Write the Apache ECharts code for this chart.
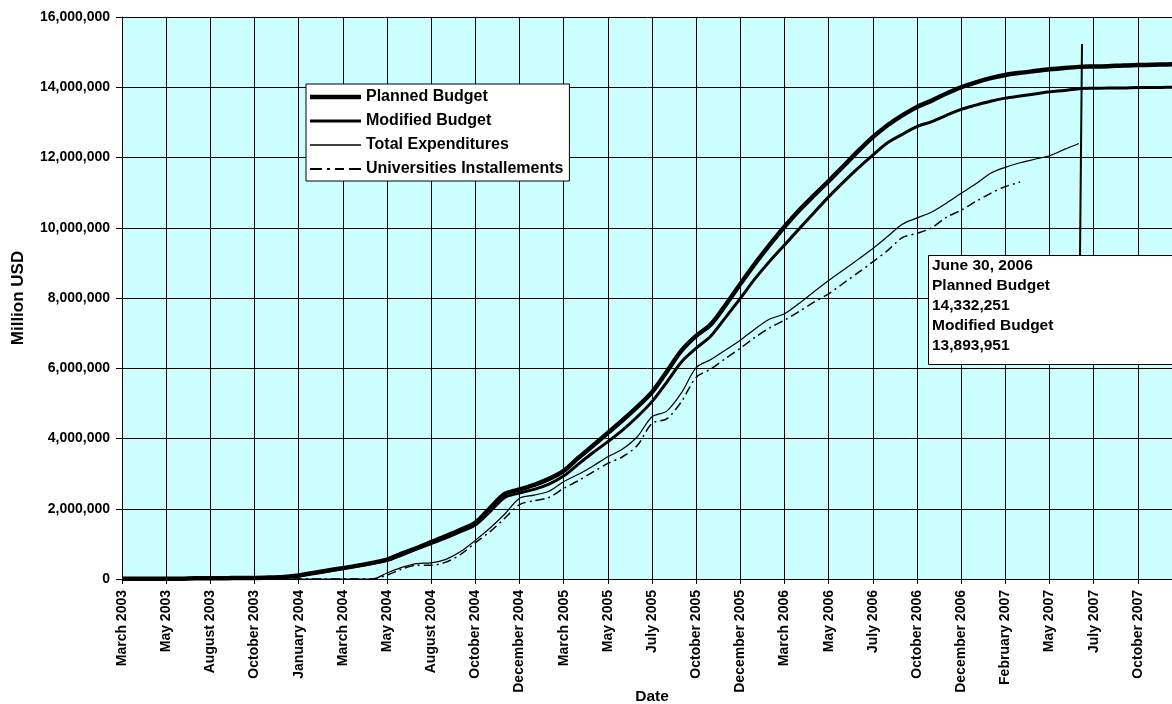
<!DOCTYPE html>
<html>
<head>
<meta charset="utf-8">
<script src="https://cdn.jsdelivr.net/npm/echarts@6/dist/echarts.min.js"></script>
<style>
  html, body { margin: 0; padding: 0; background: #fff; }
  #chart { width: 1172px; height: 704px; }
</style>
</head>
<body>
<div id="chart"></div>
<script>
// Tick labels of the date axis (one every third category)
const tickLabels = ["March 2003","May 2003","August 2003","October 2003","January 2004","March 2004",
  "May 2004","August 2004","October 2004","December 2004","March 2005","May 2005","July 2005",
  "October 2005","December 2005","March 2006","May 2006","July 2006","October 2006",
  "December 2006","February 2007","May 2007","July 2007","October 2007"];
const subSteps = 3;

// Series values (USD), one per category
const plannedBudget = [10000,10000,10000,10000,10000,20000,20000,20000,30000,30000,40000,60000,
  100000,170000,240000,310000,380000,460000,550000,720000,880000,1050000,1220000,1400000,
  1600000,2020000,2420000,2550000,2680000,2850000,3080000,3450000,3800000,4160000,4520000,4900000,
  5320000,5900000,6500000,6920000,7250000,7800000,8400000,8980000,9520000,10030000,10500000,10920000,
  11330000,11750000,12180000,12580000,12920000,13200000,13440000,13620000,13820000,14000000,14140000,14260000,
  14350000,14410000,14460000,14510000,14550000,14580000,14590000,14600000,14620000,14630000,14640000,14650000,14660000];
const modifiedBudget = [10000,10000,10000,10000,10000,20000,20000,20000,30000,30000,40000,60000,
  90000,160000,230000,300000,370000,440000,530000,680000,850000,1010000,1170000,1350000,
  1540000,1920000,2320000,2450000,2550000,2700000,2930000,3270000,3600000,3910000,4240000,4620000,
  5050000,5600000,6180000,6570000,6920000,7450000,7990000,8550000,9050000,9510000,9970000,10430000,
  10880000,11300000,11700000,12070000,12420000,12660000,12880000,13020000,13200000,13370000,13490000,13600000,
  13690000,13750000,13810000,13870000,13910000,13960000,13970000,13980000,13980000,13990000,13990000,14000000,14000000];
const totalExpenditures = [0,0,0,0,0,0,0,0,0,0,0,0,
  0,0,0,0,0,0,170000,330000,440000,460000,560000,780000,
  1100000,1450000,1850000,2300000,2390000,2500000,2770000,2980000,3220000,3480000,3700000,4050000,
  4620000,4780000,5300000,6020000,6250000,6520000,6800000,7120000,7400000,7550000,7850000,8180000,
  8500000,8800000,9100000,9410000,9750000,10100000,10280000,10450000,10700000,10980000,11250000,11550000,
  11720000,11850000,11950000,12050000,12230000,12400000,null,null,null,null,null,null,null];
const universitiesInstallements = [0,0,0,0,0,0,0,0,0,0,0,0,
  0,0,0,0,0,0,110000,280000,390000,390000,480000,700000,
  1030000,1350000,1730000,2120000,2230000,2320000,2580000,2800000,3050000,3290000,3480000,3800000,
  4430000,4560000,5050000,5740000,5980000,6280000,6570000,6880000,7150000,7370000,7620000,7880000,
  8120000,8420000,8720000,9030000,9350000,9720000,9840000,10000000,10300000,10500000,10750000,10980000,
  11170000,11300000,null,null,null,null,null,null,null,null,null,null,null];

// Annotation box texts
const calloutLines = ["June 30, 2006","Planned Budget","14,332,251","Modified Budget","13,893,951"];

// Build category list: each tick label followed by unlabeled sub-steps, plus final end category
const categories = [];
tickLabels.forEach(l => { categories.push(l); for (let k = 1; k < subSteps; k++) categories.push(''); });
categories.push('');

const FONT = "'Liberation Sans', Arial, Helvetica, sans-serif";
const fmt = v => String(v).replace(/\B(?=(\d{3})+(?!\d))/g, ',');

// Legend icons drawn as line samples (thick, medium, thin, dash-dot)
const legendIcons = {
  'Planned Budget': 'path://M0,0H51V4.5H0Z',
  'Modified Budget': 'path://M0,0H51V3.2H0Z',
  'Total Expenditures': 'path://M0,0H51V1.3H0Z',
  'Universities Installements': 'path://M0,0H12V1.8H0Z M17,0H20V1.8H17Z M25,0H34V1.8H25Z M39,0H51V1.8H39Z'
};

const chart = echarts.init(document.getElementById('chart'), null, { renderer: 'canvas' });

const calloutGraphics = calloutLines.map((t, i) => ({
  type: 'text', left: 932, top: 258 + i * 20, z: 102,
  style: { text: t, fill: '#000', font: "bold 15.5px " + FONT }
}));

const seriesNames = ['Planned Budget', 'Modified Budget', 'Total Expenditures', 'Universities Installements'];

chart.setOption({
  animation: false,
  backgroundColor: '#fff',
  textStyle: { fontFamily: FONT },
  grid: {
    left: 122, top: 17, width: 1060, height: 562,
    show: true, backgroundColor: '#CCFFFF', borderWidth: 0,
    containLabel: false, outerBoundsMode: 'none'
  },
  legend: {
    orient: 'vertical', left: 306, top: 84,
    backgroundColor: '#fff', borderColor: '#000', borderWidth: 1,
    padding: [5, 6, 4, 4], itemGap: 8, itemWidth: 51, itemHeight: 14,
    symbolKeepAspect: true,
    textStyle: { fontSize: 16, fontWeight: 'bold', color: '#000', fontFamily: FONT },
    data: seriesNames.map(n => ({ name: n, icon: legendIcons[n] }))
  },
  xAxis: {
    type: 'category', data: categories, boundaryGap: false,
    name: 'Date', nameLocation: 'middle', nameGap: 110, nameMoveOverlap: false,
    nameTextStyle: { fontSize: 15.5, fontWeight: 'bold', color: '#000', fontFamily: FONT },
    axisLine: { show: true, lineStyle: { color: '#000', width: 1 } },
    axisTick: { show: true, interval: subSteps - 1, length: 5, lineStyle: { color: '#000' } },
    axisLabel: {
      interval: subSteps - 1, rotate: 90, margin: 11,
      fontSize: 14, fontWeight: 'bold', color: '#000', fontFamily: FONT,
      formatter: (v, idx) => (idx % subSteps === 0 && tickLabels[idx / subSteps]) ? tickLabels[idx / subSteps] : ''
    },
    splitLine: { show: true, interval: subSteps - 1, lineStyle: { color: '#000', width: 1 } }
  },
  yAxis: {
    type: 'value', min: 0, max: 16000000, interval: 2000000,
    name: 'Million USD', nameLocation: 'middle', nameGap: 95, nameMoveOverlap: false,
    nameTextStyle: { fontSize: 17, fontWeight: 'bold', color: '#000', fontFamily: FONT },
    axisLine: { show: true, lineStyle: { color: '#000', width: 1 } },
    axisTick: { show: true, inside: false, length: 6, lineStyle: { color: '#000' } },
    axisLabel: { margin: 12, fontSize: 14, fontWeight: 'bold', color: '#000', fontFamily: FONT, formatter: fmt },
    splitLine: { show: true, lineStyle: { color: '#000', width: 1 } }
  },
  series: [
    { name: seriesNames[0], type: 'line', data: plannedBudget, symbol: 'none', smooth: 0.3,
      lineStyle: { color: '#000', width: 4.5 }, itemStyle: { color: '#000' }, z: 5 },
    { name: seriesNames[1], type: 'line', data: modifiedBudget, symbol: 'none', smooth: 0.3,
      lineStyle: { color: '#000', width: 3 }, itemStyle: { color: '#000' }, z: 4 },
    { name: seriesNames[2], type: 'line', data: totalExpenditures, symbol: 'none', smooth: 0.3,
      lineStyle: { color: '#000', width: 1.2 }, itemStyle: { color: '#000' }, z: 3 },
    { name: seriesNames[3], type: 'line', data: universitiesInstallements, symbol: 'none', smooth: 0.3,
      lineStyle: { color: '#000', width: 1.5, type: [9, 4, 2, 4] }, itemStyle: { color: '#000' }, z: 3 }
  ],
  graphic: [
    { type: 'line', z: 100, shape: { x1: 1082, y1: 44, x2: 1080, y2: 256 },
      style: { stroke: '#000', lineWidth: 2 } },
    { type: 'rect', z: 101, shape: { x: 928.5, y: 255.5, width: 260, height: 109 },
      style: { fill: '#fff', stroke: '#000', lineWidth: 1 } }
  ].concat(calloutGraphics)
});
</script>
</body>
</html>
